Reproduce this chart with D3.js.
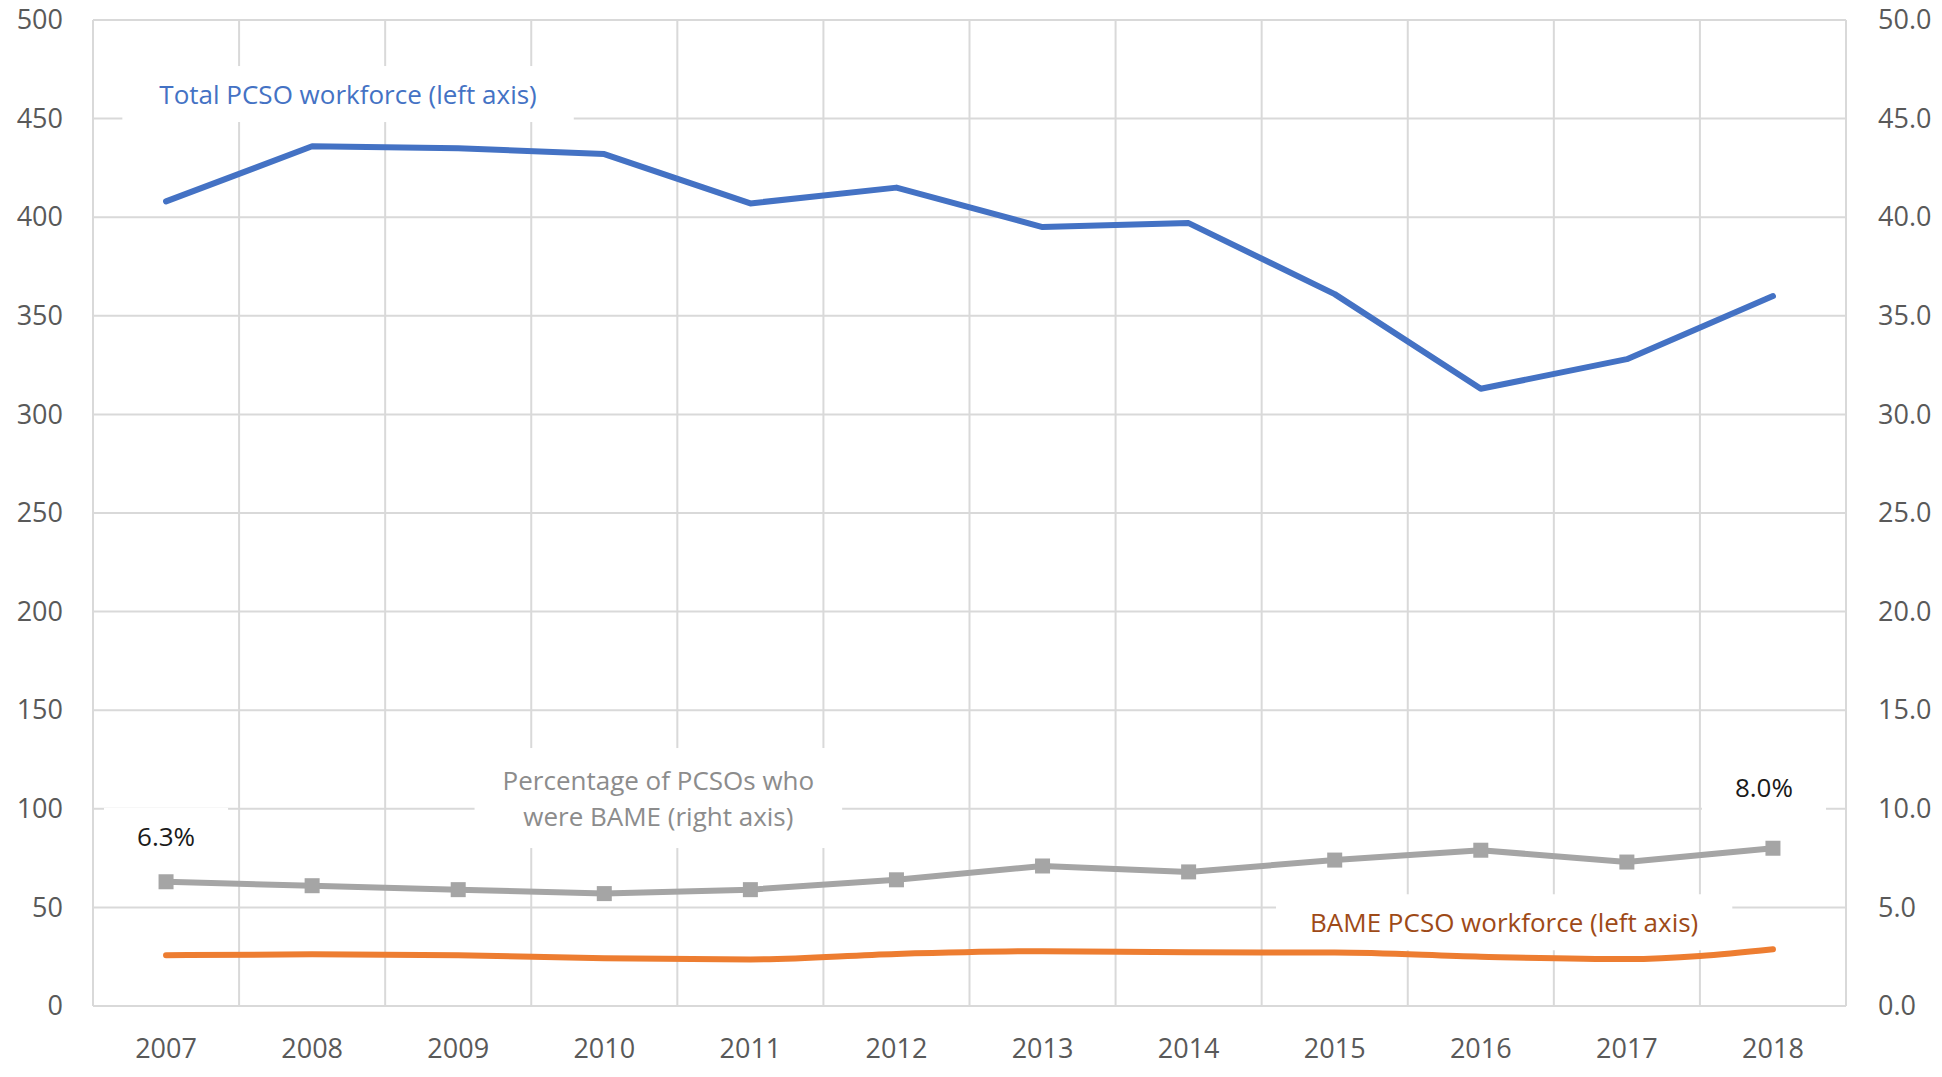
<!DOCTYPE html>
<html>
<head>
<meta charset="utf-8">
<script src="https://cdn.jsdelivr.net/npm/d3@7"></script>
<style>
  html, body { margin: 0; padding: 0; background: #ffffff; }
  svg { display: block; }
  text { font-family: "Open Sans", "Noto Sans", sans-serif; }
</style>
</head>
<body>
<svg id="chart" width="1942" height="1077"></svg>
<script>
// ---- Data ----
const years = ["2007","2008","2009","2010","2011","2012","2013","2014","2015","2016","2017","2018"];
const totalWorkforce = [408, 436, 435, 432, 407, 415, 395, 397, 361, 313, 328, 360];
const bameWorkforce = [25.7, 26.2, 25.7, 24.2, 23.6, 26.4, 27.8, 27.2, 27.1, 25.0, 23.8, 28.8];
const bamePercent = [6.3, 6.1, 5.9, 5.7, 5.9, 6.4, 7.1, 6.8, 7.4, 7.9, 7.3, 8.0];
const leftTicks = [0, 50, 100, 150, 200, 250, 300, 350, 400, 450, 500];
const rightTicks = [0, 5, 10, 15, 20, 25, 30, 35, 40, 45, 50];
const seriesLabels = ["Total PCSO workforce (left axis)", "BAME PCSO workforce (left axis)", ["Percentage of PCSOs who", "were BAME (right axis)"]];
const pointLabels = ["6.3%", "8.0%"];

// ---- Layout ----
const W = 1942, H = 1077;
const margin = { left: 93, right: 96, top: 20, bottom: 71 };
const x0 = margin.left, x1 = W - margin.right;
const y0 = H - margin.bottom, y1 = margin.top;

const svg = d3.select("#chart");
svg.append("rect").attr("width", W).attr("height", H).attr("fill", "#fff");

const x = d3.scaleBand().domain(years).range([x0, x1]).paddingInner(0).paddingOuter(0);
const xi = d3.scaleLinear().domain([0, years.length]).range([x0, x1]); // band-index scale for annotations
const yL = d3.scaleLinear().domain([0, 500]).range([y0, y1]);
const yR = d3.scaleLinear().domain([0, 50]).range([y0, y1]);
const cx = d => x(d) + x.bandwidth() / 2;

const gridColor = "#D9D9D9";
const textColor = "#595959";

// Grid
const grid = svg.append("g");
grid.selectAll("line.h").data(leftTicks.filter(t => t > 0)).join("line")
  .attr("x1", x0).attr("x2", x1)
  .attr("y1", d => yL(d)).attr("y2", d => yL(d))
  .attr("stroke", gridColor).attr("stroke-width", 2);
grid.selectAll("line.v").data(d3.range(0, years.length + 1)).join("line")
  .attr("x1", d => xi(d)).attr("x2", d => xi(d))
  .attr("y1", y1).attr("y2", y0)
  .attr("stroke", gridColor).attr("stroke-width", 2);
grid.append("line").attr("x1", x0).attr("x2", x1).attr("y1", y0).attr("y2", y0)
  .attr("stroke", gridColor).attr("stroke-width", 2);

// Axes
const axL = svg.append("g").attr("transform", `translate(${x0},0)`)
  .call(d3.axisLeft(yL).tickValues(leftTicks).tickSize(0).tickPadding(30).tickFormat(d3.format("d")));
const axR = svg.append("g").attr("transform", `translate(${x1},0)`)
  .call(d3.axisRight(yR).tickValues(rightTicks).tickSize(0).tickPadding(32).tickFormat(d3.format(".1f")));
const axB = svg.append("g").attr("transform", `translate(0,${y0})`)
  .call(d3.axisBottom(x).tickSize(0).tickPadding(33));
[axL, axR, axB].forEach(g => {
  g.select(".domain").remove();
  g.selectAll("text").attr("fill", textColor).attr("font-size", 27)
    .attr("font-family", "'Open Sans', 'Noto Sans', sans-serif");
});

// Label boxes helper (white backgrounds that hide grid, like Excel data labels)
function labelBox(g, lines, color, padX, padY, lineH) {
  const t = g.append("text").attr("text-anchor", "middle").attr("fill", color).attr("font-size", 26);
  const n = lines.length;
  lines.forEach((s, i) => {
    t.append("tspan").attr("x", 0).attr("y", (i - (n - 1) / 2) * lineH).attr("dy", "0.35em").text(s);
  });
  const bb = t.node().getBBox();
  g.insert("rect", "text")
    .attr("x", bb.x - padX).attr("y", bb.y - padY)
    .attr("width", bb.width + 2 * padX).attr("height", bb.height + 2 * padY)
    .attr("fill", "#fff");
}

const ann = svg.append("g");
// Total label
labelBox(ann.append("g").attr("transform", `translate(${xi(1.746)},${yL(462)})`),
  [seriesLabels[0]], "#4472C4", 37, 10, 36);
// Percentage label
labelBox(ann.append("g").attr("transform", `translate(${xi(3.87)},${yL(105)})`),
  seriesLabels[2], "#8C8C8C", 28, 14, 36);
// BAME label
labelBox(ann.append("g").attr("transform", `translate(${xi(9.66)},${yL(42)})`),
  [seriesLabels[1]], "#9E4A17", 34, 10, 36);
// Point labels
labelBox(ann.append("g").attr("transform", `translate(${cx("2007")},${yR(6.3) - 45})`),
  [pointLabels[0]], "#1a1a1a", 33, 10, 36);
labelBox(ann.append("g").attr("transform", `translate(${cx("2018") - 9},${yR(8.0) - 60})`),
  [pointLabels[1]], "#1a1a1a", 33, 10, 36);

// Lines
const lineL = d3.line().x((d, i) => cx(years[i])).y(d => yL(d));
const lineLsmooth = d3.line().x((d, i) => cx(years[i])).y(d => yL(d)).curve(d3.curveMonotoneX);
const lineR = d3.line().x((d, i) => cx(years[i])).y(d => yR(d));

svg.append("path").datum(totalWorkforce).attr("d", lineL)
  .attr("fill", "none").attr("stroke", "#4472C4").attr("stroke-width", 6)
  .attr("stroke-linejoin", "round").attr("stroke-linecap", "round");
svg.append("path").datum(bameWorkforce).attr("d", lineLsmooth)
  .attr("fill", "none").attr("stroke", "#ED7D31").attr("stroke-width", 6)
  .attr("stroke-linejoin", "round").attr("stroke-linecap", "round");
svg.append("path").datum(bamePercent).attr("d", lineR)
  .attr("fill", "none").attr("stroke", "#A5A5A5").attr("stroke-width", 6)
  .attr("stroke-linejoin", "round").attr("stroke-linecap", "round");
const ms = 15;
svg.append("g").selectAll("rect").data(bamePercent).join("rect")
  .attr("x", (d, i) => cx(years[i]) - ms / 2)
  .attr("y", d => yR(d) - ms / 2)
  .attr("width", ms).attr("height", ms)
  .attr("fill", "#A5A5A5");
</script>
</body>
</html>
